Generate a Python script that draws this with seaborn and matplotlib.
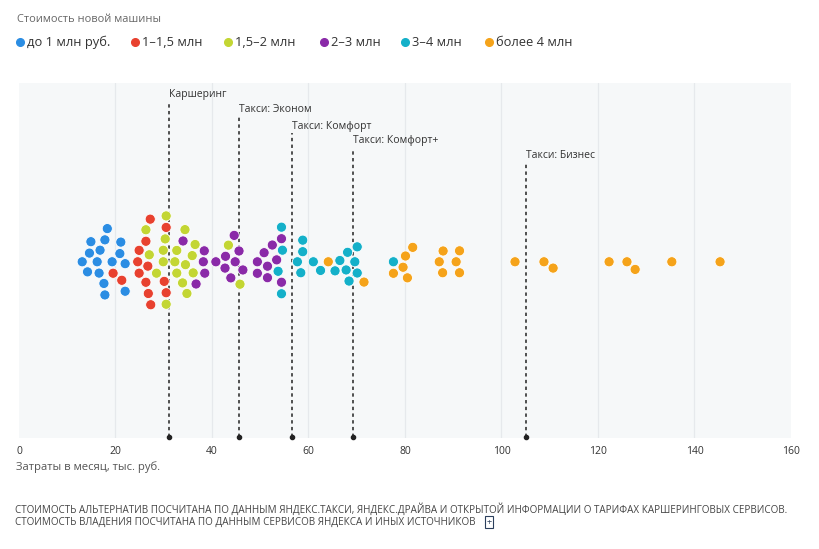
import numpy as np
import pandas as pd
import seaborn as sns
import matplotlib
matplotlib.use("Agg")
import matplotlib.pyplot as plt
from matplotlib.lines import Line2D
import matplotlib.transforms as mtransforms

# ---------------- data ----------------
categories = ["до 1 млн руб.", "1–1,5 млн", "1,5–2 млн", "2–3 млн", "3–4 млн", "более 4 млн"]
colors = ["#2b8de3", "#e8412f", "#c3d633", "#8a2aa8", "#14b0c9", "#f5a31a"]

cost_upto1 = [13.1, 14.2, 14.6, 14.9, 16.2, 16.6, 16.8, 17.6, 17.8, 17.8, 18.3, 19.3,
              20.9, 21.1, 22.0, 22.0]
cost_1_15 = [19.5, 21.3, 24.6, 24.9, 24.9, 26.3, 26.3, 26.7, 26.8, 27.2, 27.3, 30.1, 30.5, 30.5]
cost_15_2 = [26.3, 27.0, 28.5, 29.9, 29.9, 30.3, 30.5, 30.5, 32.3, 32.7, 32.7, 33.9, 34.4,
             34.5, 34.8, 35.9, 36.1, 36.5, 43.4, 45.8]
cost_2_3 = [34.0, 36.7, 38.2, 38.4, 38.5, 40.8, 42.7, 42.8, 43.9, 44.6, 44.8, 45.6, 46.4,
            49.4, 49.4, 50.8, 51.5, 51.5, 52.5, 53.4, 54.4, 54.4]
cost_3_4 = [53.7, 54.4, 54.4, 54.6, 57.7, 58.4, 58.8, 58.8, 61.0, 62.5, 65.5, 66.5, 67.8,
            68.1, 68.4, 69.6, 70.1, 70.1, 77.6]
cost_over4 = [64.1, 71.5, 77.6, 79.6, 80.1, 80.5, 81.6, 87.1, 87.8, 87.9, 90.6, 91.3, 91.3,
              102.8, 108.8, 110.7, 122.3, 126.0, 127.7, 135.3, 145.3]

ref_labels = ["Каршеринг", "Такси: Эконом", "Такси: Комфорт", "Такси: Комфорт+", "Такси: Бизнес"]
ref_values = [31.1, 45.6, 56.6, 69.2, 105.1]

x_ticks = [0, 20, 40, 60, 80, 100, 120, 140, 160]

series = [cost_upto1, cost_1_15, cost_15_2, cost_2_3, cost_3_4, cost_over4]
df = pd.DataFrame({
    "cost": [v for s in series for v in s],
    "group": [c for c, s in zip(categories, series) for _ in s],
    "row": "all",
})

# ---------------- style ----------------
sns.set_style("white")
plt.rcParams["font.family"] = ["Open Sans", "DejaVu Sans"]

W, H = 820, 549
fig = plt.figure(figsize=(W / 100, H / 100), dpi=100)
ax_left, ax_right, ax_top, ax_bot = 19, 791, 83, 438
ax = fig.add_axes([ax_left / W, 1 - ax_bot / H, (ax_right - ax_left) / W, (ax_bot - ax_top) / H])
ax.set_facecolor("#f6f8f9")
ax.set_xlim(0, 160)
ax.set_ylim(1.39, -1.41)

sns.swarmplot(data=df, x="cost", y="row", hue="group", hue_order=categories,
              palette=colors, size=7.3, linewidth=0.6, edgecolor="white",
              orient="h", dodge=False, legend=False, ax=ax, zorder=3)

ax.set_xlim(0, 160)
ax.set_ylim(1.39, -1.41)
ax.set_yticks([])
ax.set_ylabel("")
ax.set_xlabel("")
ax.set_xticks(x_ticks)
ax.set_xticklabels([str(t) for t in x_ticks], fontsize=7.5, color="#333333")
ax.tick_params(axis="x", length=0, pad=6)
for sp in ax.spines.values():
    sp.set_visible(False)
for t in x_ticks[1:-1]:
    ax.axvline(t, color="#e6e9ec", lw=0.9, zorder=0)

# reference lines
def frac(py):
    return (ax_bot - py) / (ax_bot - ax_top)

label_py = [95, 110, 126, 141, 155]
line_top_py = [103, 117, 133, 148, 162]
trans = mtransforms.blended_transform_factory(ax.transData, ax.transAxes)
for lab, val, lp, lt in zip(ref_labels, ref_values, label_py, line_top_py):
    ax.plot([val, val], [0.003, frac(lt)], transform=trans, color="#222222", lw=1.1,
            ls=(0, (2.2, 2.2)), zorder=2)
    ax.plot([val], [0.004], transform=trans, marker="o", ms=3, color="#222222", zorder=2,
            clip_on=False)
    ax.text(val, frac(lp), lab, transform=trans, ha="left", va="center",
            fontsize=7.5, color="#333333")

# axis label
fig.text(16.5 / W, 1 - 467 / H, "Затраты в месяц, тыс. руб.", ha="left", va="center",
         fontsize=8.1, color="#555555")

# legend (manual)
fig.text(17 / W, 1 - 20 / H, "Стоимость новой машины", ha="left", va="center",
         fontsize=7.9, color="#666666")
marker_px = [20, 135, 228, 324, 405, 489]
for c, col, mx in zip(categories, colors, marker_px):
    fig.add_artist(Line2D([mx / W], [1 - 42 / H], marker="o", ms=5.5, color=col, lw=0,
                          transform=fig.transFigure))
    fig.text((mx + 7) / W, 1 - 42 / H, c, ha="left", va="center", fontsize=9.3,
             color="#333333")

# footnote
fig.text(15 / W, 1 - 510 / H,
         "СТОИМОСТЬ АЛЬТЕРНАТИВ ПОСЧИТАНА ПО ДАННЫМ ЯНДЕКС.ТАКСИ, ЯНДЕКС.ДРАЙВА И ОТКРЫТОЙ ИНФОРМАЦИИ О ТАРИФАХ КАРШЕРИНГОВЫХ СЕРВИСОВ.",
         ha="left", va="center", fontsize=7.1, color="#444444")
fig.text(15 / W, 1 - 522 / H,
         "СТОИМОСТЬ ВЛАДЕНИЯ ПОСЧИТАНА ПО ДАННЫМ СЕРВИСОВ ЯНДЕКСА И ИНЫХ ИСТОЧНИКОВ",
         ha="left", va="center", fontsize=7.1, color="#444444")
fig.text(489 / W, 1 - 522 / H, "+", ha="center", va="center", fontsize=6.5, color="#2b3f5c",
         bbox=dict(boxstyle="square,pad=0.15", fc="white", ec="#2b3f5c", lw=0.8))

fig.savefig("out.png", dpi=100)
